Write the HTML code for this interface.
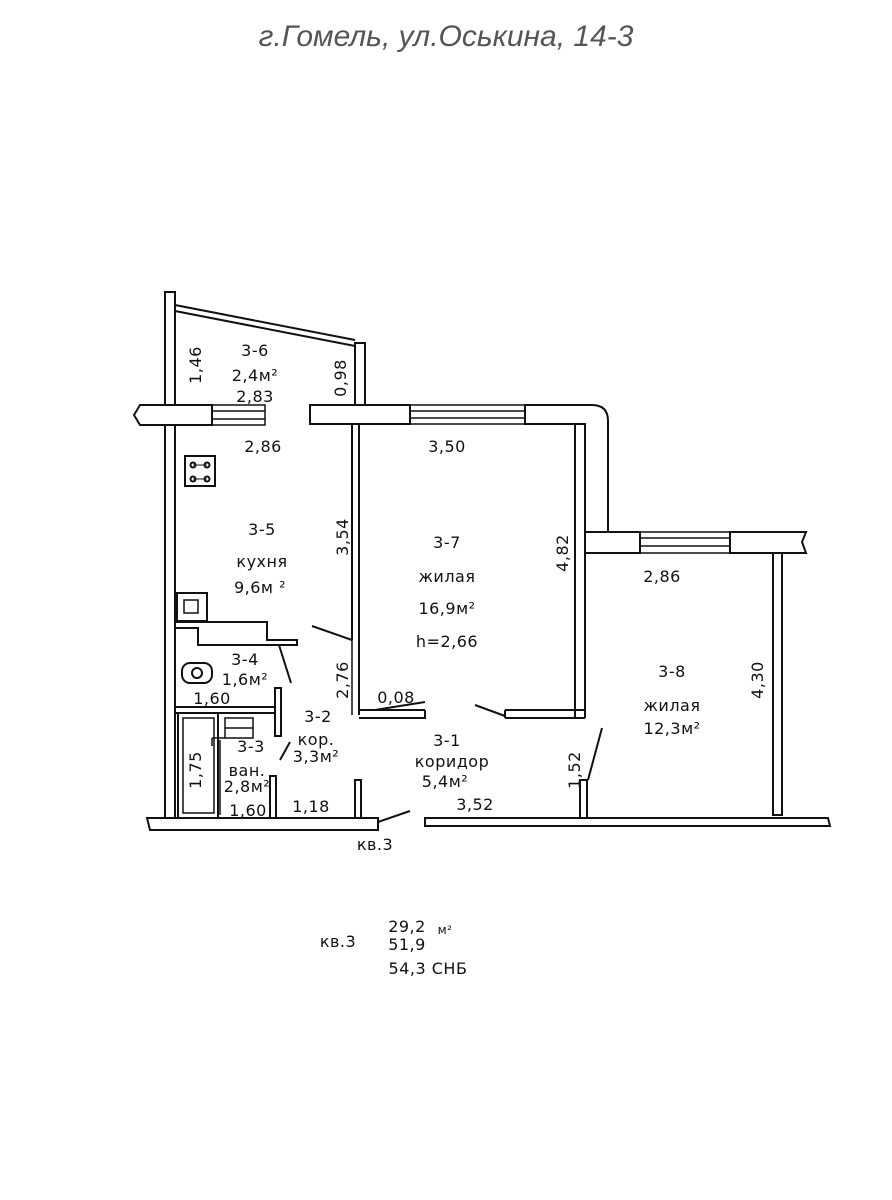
<!DOCTYPE html>
<html><head><meta charset="utf-8"><style>
html,body{margin:0;padding:0;background:#fff;}
svg{display:block;}
text{font-family:"DejaVu Sans","Liberation Sans",sans-serif;fill:#111;}
.t{font-size:16px;text-anchor:middle;letter-spacing:0.5px;}
</style></head><body>
<svg width="892" height="1200" viewBox="0 0 892 1200" xmlns="http://www.w3.org/2000/svg">
<text x="446" y="46" style="font-family:'Liberation Sans',sans-serif;font-style:italic;font-size:30px;fill:#555;text-anchor:middle">г.Гомель, ул.Оськина, 14-3</text>
<g fill="none" stroke="#111" stroke-width="2">
<rect x="165" y="292" width="10" height="528" fill="#fff"/>
<line x1="175" y1="305" x2="355" y2="340"/>
<line x1="175" y1="311" x2="355" y2="346"/>
<rect x="355" y="343" width="10" height="62" fill="#fff"/>
<path d="M212 405 H140 L134 415 L140 425 H212 Z" fill="#fff"/>
<path d="M212 405 H265 V425 H212 M212 411 H265 M212 419 H265" stroke-width="1.5"/>
<rect x="310" y="405" width="100" height="19" fill="#fff"/>
<path d="M410 405 H525 M410 424 H525 M410 411 H525 M410 418 H525" stroke-width="1.5"/>
<path d="M525 405 H592 Q608 405 608 421 V535 H585 V424 H525 Z" fill="#fff"/>
<rect x="585" y="532" width="55" height="21" fill="#fff"/>
<path d="M640 532 H730 M640 553 H730 M640 538 H730 M640 546 H730" stroke-width="1.5"/>
<path d="M730 532 H806 L802 542 L806 553 H730 Z" fill="#fff"/>
<rect x="773" y="553" width="9" height="262" fill="#fff"/>
<path d="M352 425 V640 M359 425 V715"/>
<path d="M352 640 V715" stroke-width="1.5"/>
<path d="M575 424 V718 M585 424 V718"/>
<path d="M359 710 H425 M359 718 H425 V710"/>
<path d="M505 710 H585 M505 718 H585 M505 710 V718"/>
<line x1="312" y1="626" x2="352" y2="640"/>
<line x1="375" y1="710" x2="425" y2="702"/>
<line x1="475" y1="705" x2="505" y2="716"/>
<line x1="378" y1="822" x2="410" y2="811"/>
<line x1="602" y1="728" x2="588" y2="780"/>
<rect x="580" y="780" width="7" height="38" fill="#fff"/>
<rect x="355" y="780" width="6" height="38" fill="#fff"/>
<path d="M147 818 H378 V830 H150 Z" fill="#fff"/>
<path d="M425 818 H828 L830 826 H425 Z" fill="#fff"/>
<rect x="185" y="456" width="30" height="30"/>
<circle cx="193" cy="465" r="2.5"/><circle cx="207" cy="465" r="2.5"/>
<circle cx="193" cy="479" r="2.5"/><circle cx="207" cy="479" r="2.5"/>
<line x1="193" y1="465" x2="207" y2="465" stroke-width="1"/><line x1="193" y1="479" x2="207" y2="479" stroke-width="1"/>
<rect x="177" y="593" width="30" height="28"/>
<rect x="184" y="600" width="14" height="13" stroke-width="1.5"/>
<path d="M175 622 H267 V640 H297 V645 H198 V628 H175" stroke-width="2"/>
<line x1="279" y1="645" x2="291" y2="683"/>
<rect x="182" y="663" width="30" height="20" rx="8"/>
<ellipse cx="197" cy="673" rx="5" ry="5"/>
<rect x="275" y="688" width="6" height="48" fill="#fff"/>
<path d="M175 707 H275 M175 713 H275" stroke-width="2"/>
<rect x="178" y="713" width="40" height="105"/>
<rect x="183" y="718" width="31" height="95" stroke-width="1.5"/>
<path d="M225 718 H253 V738 H225 Z M225 728 H253" stroke-width="1.5"/>
<path d="M212 738 H225 M212 738 V746" stroke-width="1.5"/>
<path d="M220 740 V815" stroke-width="1.5"/>
<line x1="280" y1="760" x2="290" y2="742"/>
<rect x="270" y="776" width="6" height="42" fill="#fff"/>
</g>
<g class="t">
<text x="255" y="356">3-6</text>
<text x="255" y="381">2,4м²</text>
<text x="255" y="402">2,83</text>
<text transform="translate(201,365) rotate(-90)">1,46</text>
<text transform="translate(346,378) rotate(-90)">0,98</text>
<text x="263" y="452">2,86</text>
<text x="447" y="452">3,50</text>
<text x="262" y="535">3-5</text>
<text x="262" y="567">кухня</text>
<text x="260" y="593">9,6м ²</text>
<text transform="translate(348,537) rotate(-90)">3,54</text>
<text x="447" y="548">3-7</text>
<text x="447" y="582">жилая</text>
<text x="447" y="614">16,9м²</text>
<text x="447" y="647">h=2,66</text>
<text transform="translate(568,553) rotate(-90)">4,82</text>
<text x="662" y="582">2,86</text>
<text x="672" y="677">3-8</text>
<text x="672" y="711">жилая</text>
<text x="672" y="734">12,3м²</text>
<text transform="translate(763,680) rotate(-90)">4,30</text>
<text x="245" y="665">3-4</text>
<text x="245" y="685">1,6м²</text>
<text x="212" y="704">1,60</text>
<text transform="translate(348,680) rotate(-90)">2,76</text>
<text x="396" y="703">0,08</text>
<text x="318" y="722">3-2</text>
<text x="316" y="745">кор.</text>
<text x="316" y="762">3,3м²</text>
<text x="251" y="752">3-3</text>
<text x="247" y="776">ван.</text>
<text x="247" y="792">2,8м²</text>
<text transform="translate(201,770) rotate(-90)">1,75</text>
<text x="248" y="816">1,60</text>
<text x="311" y="812">1,18</text>
<text x="447" y="746">3-1</text>
<text x="452" y="767">коридор</text>
<text x="445" y="787">5,4м²</text>
<text x="475" y="810">3,52</text>
<text transform="translate(580,770) rotate(-90)">1,52</text>
<text x="375" y="850">кв.3</text>
<text x="338" y="947">кв.3</text>
<text x="407" y="932">29,2</text>
<text x="445" y="934" style="font-size:12px">м²</text>
<text x="407" y="950">51,9</text>
<text x="428" y="974">54,3 СНБ</text>
</g>
</svg>
</body></html>
